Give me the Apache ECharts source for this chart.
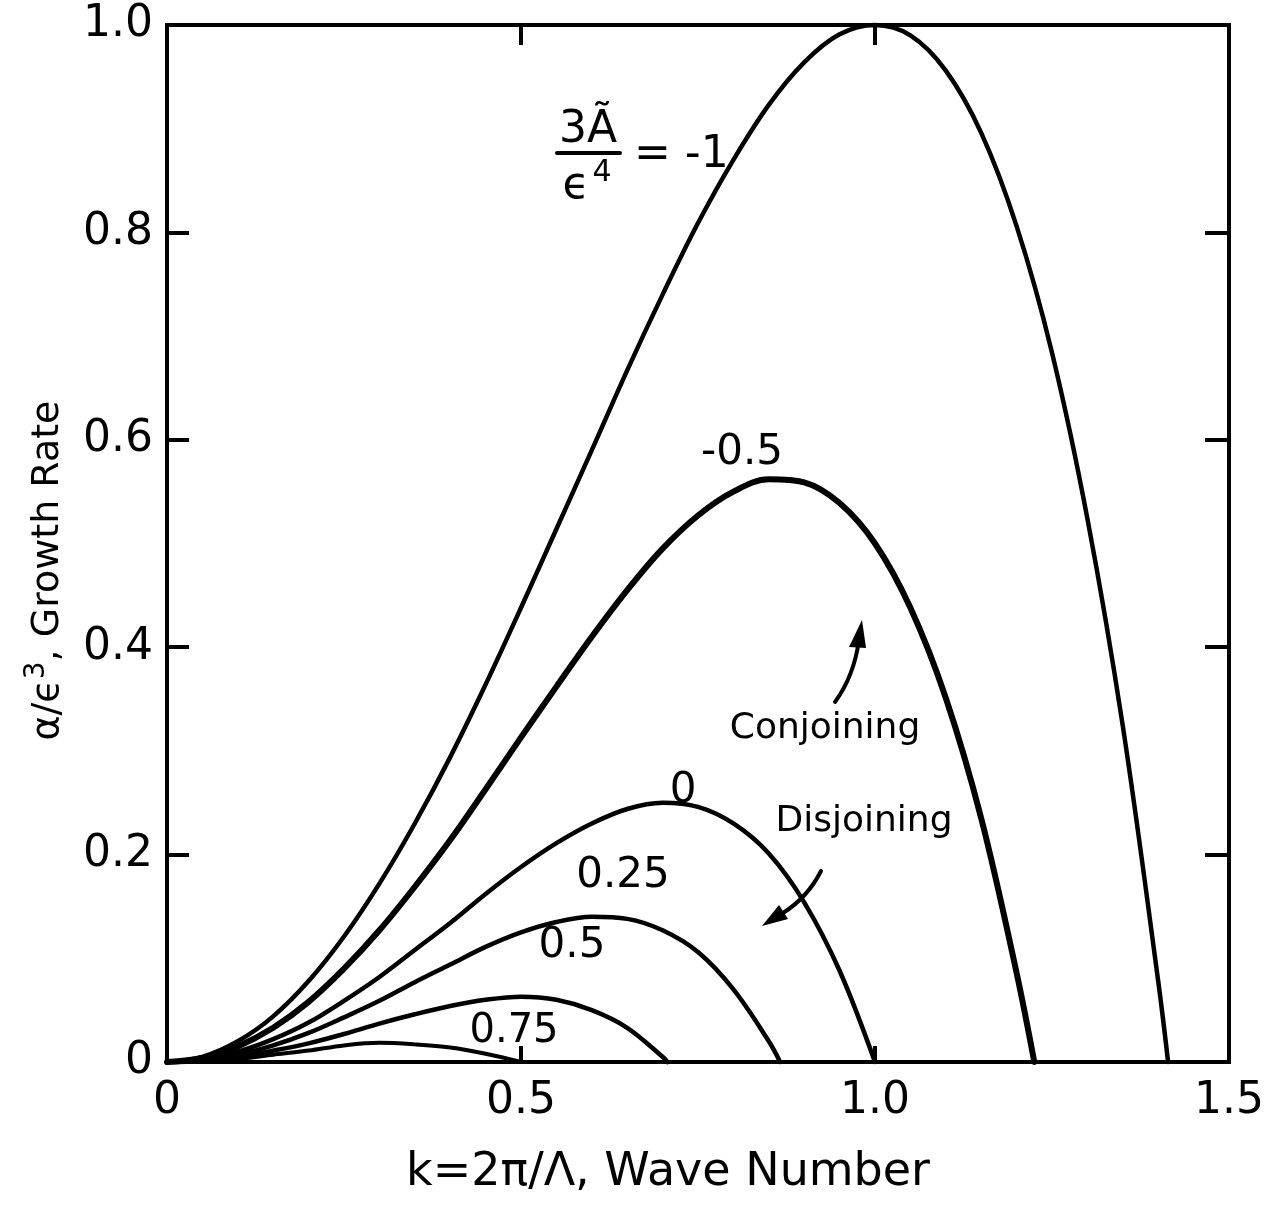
<!DOCTYPE html>
<html><head><meta charset="utf-8">
<script src="https://cdn.jsdelivr.net/npm/echarts@6/dist/echarts.min.js"></script>
<style>html,body{margin:0;padding:0;background:#fff}#c{width:1269px;height:1207px}</style>
</head><body><div id="c"></div>
<script>
// ---- data ----
const xTickValues = [0, 0.5, 1.0, 1.5];
const yTickValues = [0, 0.2, 0.4, 0.6, 0.8, 1.0];
const curveLabels = ['-1', '-0.5', '0', '0.25', '0.5', '0.75'];

const kM1  = [0,0.05,0.1,0.15,0.2,0.25,0.3,0.35,0.4,0.45,0.5,0.55,0.6,0.65,0.7,0.75,0.8,0.85,0.9,0.95,1.0,1.05,1.1,1.15,1.2,1.25,1.3,1.35,1.4,1.414];
const aM1  = [0,0.005,0.020,0.044,0.078,0.121,0.172,0.230,0.294,0.364,0.438,0.514,0.590,0.667,0.740,0.809,0.870,0.923,0.964,0.991,1.000,0.990,0.956,0.896,0.806,0.684,0.524,0.324,0.078,0];
const kM05 = [0,0.05,0.1,0.15,0.2,0.25,0.3,0.35,0.4,0.45,0.5,0.55,0.6,0.65,0.7,0.75,0.8,0.85,0.9,0.95,1.0,1.05,1.1,1.15,1.2,1.225];
const aM05 = [0,0.004,0.015,0.033,0.058,0.090,0.127,0.169,0.214,0.263,0.313,0.362,0.410,0.455,0.495,0.527,0.550,0.562,0.559,0.539,0.500,0.438,0.351,0.235,0.086,0];
const k0   = [0,0.05,0.1,0.15,0.2,0.25,0.3,0.35,0.4,0.45,0.5,0.55,0.6,0.65,0.7,0.75,0.8,0.85,0.9,0.95,1.0];
const a0   = [0,0.003,0.010,0.022,0.038,0.059,0.082,0.108,0.134,0.162,0.188,0.211,0.230,0.244,0.250,0.246,0.230,0.201,0.154,0.088,0];
const k025 = [0,0.05,0.1,0.15,0.2,0.25,0.3,0.35,0.4,0.45,0.5,0.55,0.6,0.65,0.7,0.75,0.8,0.85,0.866];
const a025 = [0,0.002,0.007,0.016,0.028,0.043,0.059,0.077,0.094,0.111,0.125,0.135,0.140,0.138,0.127,0.106,0.070,0.020,0];
const k05  = [0,0.05,0.1,0.15,0.2,0.25,0.3,0.35,0.4,0.45,0.5,0.55,0.6,0.65,0.7,0.707];
const a05  = [0,0.001,0.005,0.011,0.018,0.027,0.037,0.046,0.054,0.060,0.063,0.060,0.050,0.033,0.005,0];
const k075 = [0,0.05,0.1,0.15,0.2,0.25,0.3,0.35,0.4,0.45,0.5];
const a075 = [0,0.001,0.003,0.007,0.011,0.016,0.0185,0.017,0.014,0.008,0];

const curves = [[kM1,aM1],[kM05,aM05],[k0,a0],[k025,a025],[k05,a05],[k075,a075]];
const widths = [4.5, 6, 4.5, 4.5, 4.5, 4];

// ---- chart ----
const FONT = 'DejaVu Sans';
const chart = echarts.init(document.getElementById('c'), null, {renderer:'canvas'});
const fmt = v => (v === 0 ? '0' : v.toFixed(1));
const tickCommon = {show:true, inside:true, length:20, lineStyle:{color:'#000', width:4}};
const lineCommon = {show:true, onZero:false, lineStyle:{color:'#000', width:4}};

const series = curves.map((c, i) => ({
  type:'line', name: curveLabels[i], smooth:0.35, showSymbol:false, clip:false,
  xAxisIndex:0, yAxisIndex:0,
  lineStyle:{color:'#000', width: widths[i], cap:'round', join:'round'},
  data: c[0].map((k, j) => [k, c[1][j]]),
  z: 5
}));

chart.setOption({
  animation:false,
  backgroundColor:'#fff',
  grid:{left:167, top:25, width:1062, height:1037, show:true, borderColor:'#000', borderWidth:4, backgroundColor:'transparent'},
  xAxis:[
    {type:'value', min:0, max:1.5, interval:0.5, position:'bottom',
     axisLine:lineCommon, axisTick:Object.assign({}, tickCommon, {length:16}), splitLine:{show:false},
     axisLabel:{show:true, margin:18, color:'#000', fontFamily:FONT, fontSize:44, formatter:fmt},
     name:'k=2\u03c0/\u039b, Wave Number', nameLocation:'middle', nameGap:88,
     nameTextStyle:{color:'#000', fontFamily:FONT, fontSize:46, padding:[0,60,0,0]}},
    {type:'value', min:0, max:1.5, interval:0.5, position:'top',
     axisLine:lineCommon, axisTick:tickCommon, splitLine:{show:false}, axisLabel:{show:false}}
  ],
  yAxis:[
    {type:'value', min:0, max:1.0, interval:0.2, position:'left',
     axisLine:lineCommon, axisTick:Object.assign({}, tickCommon, {length:22}), splitLine:{show:false},
     axisLabel:{show:true, margin:14, color:'#000', fontFamily:FONT, fontSize:44, formatter:fmt},
     name:'{a|\u03b1/\u03f5}{s|3}{a|, Growth Rate}', nameLocation:'middle', nameRotate:90, nameGap:94,
     nameTextStyle:{color:'#000', fontFamily:FONT, fontSize:38, padding:[0,54,0,0],
       rich:{a:{fontFamily:FONT, fontSize:38, color:'#000'}, s:{fontFamily:FONT, fontSize:28, color:'#000', verticalAlign:'top', padding:[0,0,22,0]}}}},
    {type:'value', min:0, max:1.0, interval:0.2, position:'right',
     axisLine:lineCommon, axisTick:Object.assign({}, tickCommon, {length:24}), splitLine:{show:false}, axisLabel:{show:false}}
  ],
  series: series
});

// ---- annotations (pixel layout) ----
const txt = (x, y, s, size, align) => ({type:'text', x:x, y:y, z:10,
  style:{text:s, fill:'#000', font: size + 'px "' + FONT + '"', align: align || 'center', verticalAlign:'middle'}});
const frac = {cx:588, cy:153};
const graphics = [
  txt(frac.cx, frac.cy - 22, '3\u00c3', 44),
  {type:'line', z:10, shape:{x1:frac.cx-31, y1:frac.cy, x2:frac.cx+32, y2:frac.cy}, style:{stroke:'#000', lineWidth:4, lineCap:'round'}},
  txt(frac.cx - 12, frac.cy + 34, '\u03f5', 44),
  txt(frac.cx + 14, frac.cy + 20, '4', 30),
  txt(frac.cx + 46, frac.cy + 3, '= -1', 44, 'left'),
  txt(742, 453, '-0.5', 42),
  txt(683, 791, '0', 42),
  txt(623, 876, '0.25', 42),
  txt(572, 946, '0.5', 42),
  txt(514, 1032, '0.75', 40),
  txt(825, 729, 'Conjoining', 36),
  txt(864, 822, 'Disjoining', 36),
  {type:'bezierCurve', z:10, shape:{x1:835, y1:702, cpx1:854, cpy1:676, x2:859, y2:640}, style:{stroke:'#000', lineWidth:4, fill:null, lineCap:'round'}},
  {type:'polygon', z:10, shape:{points:[[862,620],[849,647],[866,648]]}, style:{fill:'#000'}},
  {type:'bezierCurve', z:10, shape:{x1:821, y1:871, cpx1:808, cpy1:897, x2:783, y2:913}, style:{stroke:'#000', lineWidth:4, fill:null, lineCap:'round'}},
  {type:'polygon', z:10, shape:{points:[[762,926],[788,919],[779,905]]}, style:{fill:'#000'}}
];
chart.setOption({graphic: graphics});
</script>
</body></html>
